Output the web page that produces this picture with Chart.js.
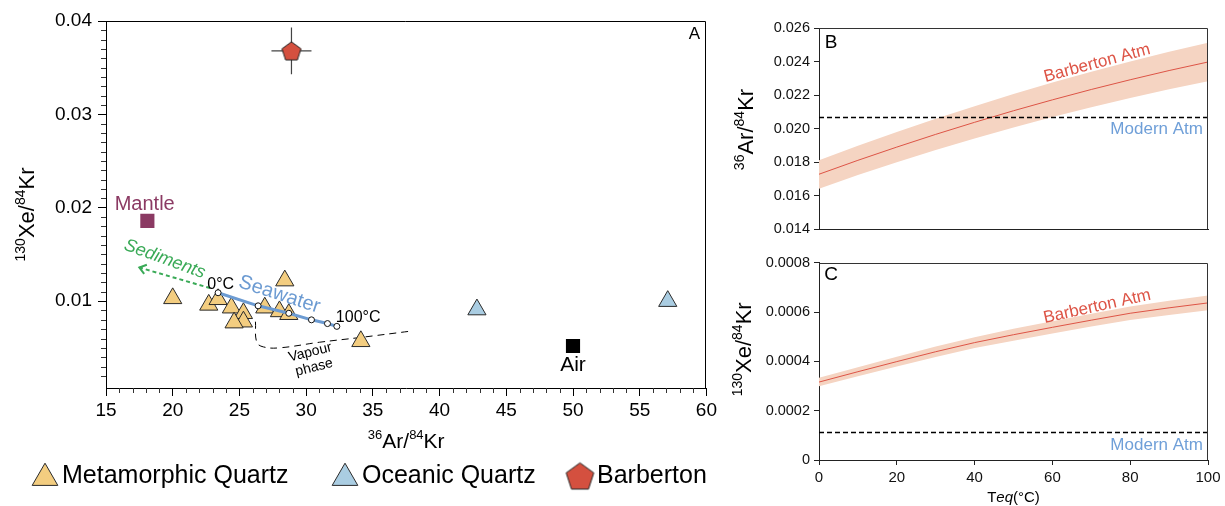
<!DOCTYPE html>
<html>
<head>
<meta charset="utf-8">
<script src="https://cdn.jsdelivr.net/npm/chart.js@4.4.1/dist/chart.umd.min.js"></script>
<style>
  html, body { margin: 0; padding: 0; background: #fff; }
  #wrap { position: relative; width: 1225px; height: 506px; overflow: hidden; }
  canvas { position: absolute; }
  #chartA { left: 0; top: 0; }
  #chartB { left: 720px; top: 0; }
  #chartC { left: 720px; top: 250px; }
</style>
</head>
<body>
<div id="wrap">
  <canvas id="chartA" width="720" height="506"></canvas>
  <canvas id="chartB" width="505" height="250"></canvas>
  <canvas id="chartC" width="505" height="256"></canvas>
</div>
<script>
// Panel A: 36Ar/84Kr vs 130Xe/84Kr
const metaAr = [20.0, 22.7, 23.4, 24.4, 25.3, 25.3, 24.6, 26.9, 28.4, 28.0, 28.7, 34.1];
const metaXe = [0.0103, 0.0096, 0.0102, 0.0093, 0.0087, 0.0078, 0.0077, 0.0093, 0.0122, 0.0089, 0.0086, 0.0057];
const oceanAr = [42.8, 57.1];
const oceanXe = [0.0091, 0.0100];
const barbAr = [28.9];
const barbXe = [0.0368];
const barbArErr = [1.5];
const barbXeErr = [0.0025];
const mantleAr = [18.1];
const mantleXe = [0.0186];
const airAr = [50.0];
const airXe = [0.0052];
const seawaterT = [0, 20, 40, 60, 80, 100];
const seawaterAr = [23.4, 26.4, 28.7, 30.4, 31.6, 32.3];
const seawaterXe = [0.0109, 0.0095, 0.0087, 0.0080, 0.0076, 0.0073];
const sedimentAr = [22.8, 17.5];
const sedimentXe = [0.0114, 0.0136];
const vapourAr = [26.2, 26.3, 26.8, 28.0, 31.0, 34.0, 37.9];
const vapourXe = [0.0078, 0.0056, 0.0051, 0.0050, 0.0056, 0.0061, 0.0068];

// Panels B and C: equilibrium temperature curves
const teq = [0, 10, 20, 30, 40, 50, 60, 70, 80, 90, 100];
const arKrMid = [0.01727, 0.01810, 0.01889, 0.01965, 0.02037, 0.02106, 0.02171, 0.02233, 0.02291, 0.02346, 0.02397];
const arKrHi = [0.01811, 0.01897, 0.01979, 0.02058, 0.02133, 0.02206, 0.02274, 0.02339, 0.02400, 0.02458, 0.02512];
const arKrLo = [0.01641, 0.01723, 0.01799, 0.01872, 0.01941, 0.02006, 0.02068, 0.02127, 0.02182, 0.02234, 0.02282];
const arKrModern = 0.02065;
const xeKrMid = [0.000316, 0.000358, 0.000399, 0.000439, 0.000476, 0.000508, 0.000538, 0.000567, 0.000595, 0.000617, 0.000637];
const xeKrHi = [0.000333, 0.000376, 0.000419, 0.000460, 0.000498, 0.000532, 0.000563, 0.000593, 0.000622, 0.000646, 0.000667];
const xeKrLo = [0.000299, 0.000340, 0.000379, 0.000418, 0.000454, 0.000484, 0.000513, 0.000541, 0.000568, 0.000588, 0.000607];
const xeKrModern = 0.000112;

const FONT = "'Liberation Sans', Arial, sans-serif";

const RED = "#dd5446";
const BAND = "#f5d4c2";
const BLUE = "#6f9fd8";

function onStep(v, step) {
  const r = v / step;
  return Math.abs(r - Math.round(r)) < 1e-6;
}

function pts(xs, ys) {
  return xs.map((x, i) => ({ x, y: ys[i] }));
}

// pentagon marker (Chart.js has no built-in pentagon point style)
function pentagon(r) {
  const c = document.createElement("canvas");
  const s = Math.ceil(r * 2 + 4);
  c.width = s; c.height = s;
  const g = c.getContext("2d");
  const cy = s / 2 + r * 0.095;
  g.beginPath();
  for (let i = 0; i < 5; i++) {
    const ang = -Math.PI / 2 + i * 2 * Math.PI / 5;
    const px = s / 2 + r * Math.cos(ang), py = cy + r * Math.sin(ang);
    if (i) g.lineTo(px, py); else g.moveTo(px, py);
  }
  g.closePath();
  g.fillStyle = "#d4503f";
  g.fill();
  g.strokeStyle = "#222";
  g.lineWidth = 1;
  g.stroke();
  return c;
}
const pentSmall = pentagon(10);
const pentBig = pentagon(14.5);

// text with superscripts, e.g. [["36", "sup"], ["Ar/"], ...]
function richText(ctx, segs, x, y, rot, size, color) {
  const supSize = Math.round(size * 0.64);
  ctx.save();
  ctx.translate(x, y);
  ctx.rotate(rot * Math.PI / 180);
  ctx.fillStyle = color || "#000";
  ctx.textBaseline = "alphabetic";
  ctx.textAlign = "left";
  const fontOf = s => (s[1] === "it" ? "italic " : "") + (s[1] === "sup" ? supSize : size) + "px " + FONT;
  let total = 0;
  const widths = segs.map(s => {
    ctx.font = fontOf(s);
    const w = ctx.measureText(s[0]).width;
    total += w;
    return w;
  });
  let cx = -total / 2;
  segs.forEach((s, i) => {
    ctx.font = fontOf(s);
    ctx.fillText(s[0], cx, size * 0.36 - (s[1] === "sup" ? size * 0.42 : 0));
    cx += widths[i];
  });
  ctx.restore();
}

// frame, minor ticks, labels, axis titles, arrow, legend
const annot = {
  id: "annot",
  afterDraw(chart, _args, o) {
    const { ctx, chartArea: a, scales } = chart;
    const sx = scales.x, sy = scales.y;
    ctx.save();

    // top and right edges of the box (left/bottom come from the axes)
    ctx.strokeStyle = o.frame || "#000";
    ctx.lineWidth = 1;
    const top = Math.round(a.top) + 0.5, right = Math.round(a.right) - 0.5;
    ctx.beginPath();
    ctx.moveTo(a.left, top);
    ctx.lineTo(right, top);
    ctx.lineTo(right, a.bottom);
    ctx.stroke();

    (o.minor || []).forEach(m => {
      const sc = scales[m.axis];
      ctx.strokeStyle = "#333";
      ctx.beginPath();
      sc.ticks.forEach(t => {
        if (onStep(t.value, m.major)) return;
        const p = Math.round(sc.getPixelForValue(t.value)) + 0.5;
        if (m.axis === "x") { ctx.moveTo(p, a.bottom); ctx.lineTo(p, a.bottom + m.len); }
        else { ctx.moveTo(a.left - m.len, p); ctx.lineTo(a.left, p); }
      });
      ctx.stroke();
    });

    (o.arrows || []).forEach(ar => {
      const d = chart.getDatasetMeta(ar.ds).data;
      const tip = d[d.length - 1], prev = d[d.length - 2];
      const ang = Math.atan2(tip.y - prev.y, tip.x - prev.x);
      ctx.strokeStyle = ar.color;
      ctx.lineWidth = 2;
      ctx.beginPath();
      ctx.moveTo(tip.x + ar.len * Math.cos(ang + 2.5), tip.y + ar.len * Math.sin(ang + 2.5));
      ctx.lineTo(tip.x, tip.y);
      ctx.lineTo(tip.x + ar.len * Math.cos(ang - 2.5), tip.y + ar.len * Math.sin(ang - 2.5));
      ctx.stroke();
    });

    (o.texts || []).forEach(t => {
      let px, py;
      if (t.area) {
        px = t.fromRight ? a.right - t.dx : a.left + t.dx;
        py = a.top + t.dy;
      } else {
        px = sx.getPixelForValue(t.x);
        py = sy.getPixelForValue(t.y);
      }
      ctx.save();
      ctx.translate(px, py);
      ctx.rotate((t.rot || 0) * Math.PI / 180);
      ctx.font = t.font;
      ctx.fillStyle = t.color || "#000";
      ctx.textAlign = t.align || "center";
      ctx.textBaseline = "middle";
      ctx.fillText(t.text, 0, 0);
      ctx.restore();
    });

    (o.titles || []).forEach(t => {
      const p = t.at(a);
      richText(ctx, t.segs, p[0], p[1], t.rot || 0, t.size, "#000");
    });

    if (o.legend) {
      const L = o.legend;
      ctx.font = L.font;
      ctx.textAlign = "left";
      ctx.textBaseline = "middle";
      L.items.forEach(it => {
        const ds = chart.data.datasets[it.ds];
        if (it.image) {
          ctx.drawImage(it.image, it.x - it.image.width / 2, L.y - it.image.height / 2);
        } else {
          ctx.fillStyle = ds.backgroundColor;
          ctx.strokeStyle = ds.borderColor;
          ctx.lineWidth = 1;
          Chart.helpers.drawPoint(ctx, { pointStyle: ds.pointStyle, radius: L.radius, rotation: 0, borderWidth: 1 }, it.x, L.y + 2);
        }
        ctx.fillStyle = "#000";
        ctx.fillText(ds.label, it.x + L.gap, L.y);
      });
    }
    ctx.restore();
  }
};

const base = {
  responsive: false,
  animation: false,
  events: [],
  plugins: { legend: { display: false }, tooltip: { enabled: false } }
};

// ---------- Panel A ----------
new Chart(document.getElementById("chartA"), {
  type: "scatter",
  data: {
    datasets: [
      { label: "Metamorphic Quartz", data: pts(metaAr, metaXe), pointStyle: "triangle", pointRadius: 10.5,
        backgroundColor: "#f3cd80", borderColor: "#2a2a2a", borderWidth: 1, order: 2 },
      { label: "Oceanic Quartz", data: pts(oceanAr, oceanXe), pointStyle: "triangle", pointRadius: 10.5,
        backgroundColor: "#aacde2", borderColor: "#2a2a2a", borderWidth: 1, order: 2 },
      { label: "Barberton", data: pts(barbAr, barbXe), pointStyle: pentSmall, pointRadius: 10,
        backgroundColor: "#d4503f", borderColor: "#222", order: 1 },
      { label: "err x", data: [{ x: barbAr[0] - barbArErr[0], y: barbXe[0] }, { x: barbAr[0] + barbArErr[0], y: barbXe[0] }],
        showLine: true, pointRadius: 0, borderColor: "#444", borderWidth: 1.2, order: 3 },
      { label: "err y", data: [{ x: barbAr[0], y: barbXe[0] - barbXeErr[0] }, { x: barbAr[0], y: barbXe[0] + barbXeErr[0] }],
        showLine: true, pointRadius: 0, borderColor: "#444", borderWidth: 1.2, order: 3 },
      { label: "Mantle", data: pts(mantleAr, mantleXe), pointStyle: "rect", pointRadius: 10,
        backgroundColor: "#8b3a63", borderColor: "#8b3a63", borderWidth: 0, order: 2 },
      { label: "Air", data: pts(airAr, airXe), pointStyle: "rect", pointRadius: 10,
        backgroundColor: "#000", borderColor: "#000", borderWidth: 0, order: 2 },
      { label: "Seawater", data: pts(seawaterAr, seawaterXe), showLine: true, borderColor: "#6c9bd2", borderWidth: 3,
        pointRadius: 3, pointBackgroundColor: "#fff", pointBorderColor: "#111", pointBorderWidth: 1, order: 0 },
      { label: "Sediments", data: pts(sedimentAr, sedimentXe), showLine: true, borderColor: "#3aaa57", borderWidth: 2,
        borderDash: [4, 3], pointRadius: 0, order: 0 },
      { label: "Vapour phase", data: pts(vapourAr, vapourXe), showLine: true, borderColor: "#000", borderWidth: 1,
        borderDash: [7, 5], tension: 0.4, pointRadius: 0, order: 4 }
    ]
  },
  options: {
    ...base,
    layout: { padding: { top: 21, right: 13, left: 0, bottom: 0 } },
    scales: {
      x: {
        type: "linear", min: 15, max: 60,
        afterBuildTicks: s => { s.ticks = s.ticks.filter(t => onStep(t.value, 1)); },
        afterFit: s => { s.height = 118; },
        ticks: { stepSize: 1, autoSkip: false, maxRotation: 0, padding: 3, color: "#000",
          font: { size: 19, family: FONT }, callback: v => onStep(v, 5) ? String(Math.round(v)) : "" },
        grid: { drawOnChartArea: false, tickLength: 8,
          tickColor: c => (c.tick && onStep(c.tick.value, 5)) ? "#000" : "rgba(0,0,0,0)" },
        border: { color: "#000" }
      },
      y: {
        type: "linear", min: 0.0007, max: 0.04,
        afterBuildTicks: s => { s.ticks = s.ticks.filter(t => onStep(t.value, 0.001)); },
        afterFit: s => { s.width = 106; },
        ticks: { stepSize: 0.001, autoSkip: false, padding: 6, color: "#000",
          font: { size: 19, family: FONT }, callback: v => onStep(v, 0.01) ? v.toFixed(2) : "" },
        grid: { drawOnChartArea: false, tickLength: 8,
          tickColor: c => (c.tick && onStep(c.tick.value, 0.01)) ? "#000" : "rgba(0,0,0,0)" },
        border: { color: "#000" }
      }
    },
    plugins: {
      ...base.plugins,
      annot: {
        minor: [{ axis: "x", major: 5, len: 5 }, { axis: "y", major: 0.01, len: 5 }],
        arrows: [{ ds: 8, color: "#3aaa57", len: 8 }],
        texts: [
          { x: 17.9, y: 0.0204, text: "Mantle", color: "#8b3a63", font: "20px " + FONT },
          { x: 50.0, y: 0.0031, text: "Air", font: "21px " + FONT },
          { x: 28.0, y: 0.0107, text: "Seawater", color: "#6c9bd2", font: "20px " + FONT, rot: 18 },
          { x: 19.4, y: 0.0145, text: "Sediments", color: "#3aaa57", font: "italic 18px " + FONT, rot: 20 },
          { x: 23.6, y: 0.0118, text: "0°C", font: "16px " + FONT },
          { x: 33.9, y: 0.0082, text: "100°C", font: "16px " + FONT },
          { x: 30.3, y: 0.0045, text: "Vapour", font: "14px " + FONT, rot: -14 },
          { x: 30.6, y: 0.0029, text: "phase", font: "14px " + FONT, rot: -14 },
          { area: true, fromRight: true, dx: 12, dy: 13, text: "A", font: "17px " + FONT }
        ],
        titles: [
          { segs: [["36", "sup"], ["Ar/"], ["84", "sup"], ["Kr"]], size: 21,
            at: a => [(a.left + a.right) / 2, a.bottom + 52] },
          { segs: [["130", "sup"], ["Xe/"], ["84", "sup"], ["Kr"]], size: 22, rot: -90,
            at: a => [26, (a.top + a.bottom) / 2 + 10] }
        ],
        legend: {
          y: 476, radius: 14.8, gap: 17, font: "25px " + FONT,
          items: [{ ds: 0, x: 45 }, { ds: 1, x: 345 }, { ds: 2, x: 580, image: pentBig }]
        }
      }
    }
  },
  plugins: [annot]
});

// ---------- Panels B and C ----------
function curveChart(id, cfg) {
  return new Chart(document.getElementById(id), {
    type: "scatter",
    data: {
      datasets: [
        { label: "upper", data: pts(teq, cfg.hi), showLine: true, pointRadius: 0, borderWidth: 0,
          borderColor: BAND, backgroundColor: BAND, fill: "+1", order: 2 },
        { label: "lower", data: pts(teq, cfg.lo), showLine: true, pointRadius: 0, borderWidth: 0,
          borderColor: BAND, fill: false, order: 2 },
        { label: "Barberton Atm", data: pts(teq, cfg.mid), showLine: true, pointRadius: 0, borderWidth: 1,
          borderColor: RED, order: 1 },
        { label: "Modern Atm", data: [{ x: teq[0], y: cfg.modern }, { x: teq[teq.length - 1], y: cfg.modern }],
          showLine: true, pointRadius: 0, borderWidth: 1.5, borderColor: "#000", borderDash: [5, 3], order: 0 }
      ]
    },
    options: {
      ...base,
      layout: { padding: { top: cfg.top, right: 17, left: 0, bottom: 0 } },
      scales: {
        x: {
          type: "linear", min: 0, max: 100,
          afterFit: s => { s.height = cfg.xHeight; },
          ticks: { display: cfg.xTicks, stepSize: 20, maxRotation: 0, padding: 4, color: "#111",
            font: { size: 15, family: FONT } },
          grid: { display: cfg.xTicks, drawOnChartArea: false, tickLength: 5, tickColor: "#222" },
          border: { color: "#222" }
        },
        y: {
          type: "linear", min: cfg.min, max: cfg.max,
          afterFit: s => { s.width = 99; },
          ticks: { stepSize: cfg.step, padding: 4, color: "#111", font: { size: 14.5, family: FONT },
            callback: v => Math.abs(v) < 1e-12 ? "0" : v.toFixed(cfg.digits) },
          grid: { drawOnChartArea: false, tickLength: 5, tickColor: "#222" },
          border: { color: "#222" }
        }
      },
      plugins: {
        ...base.plugins,
        annot: {
          frame: "#333",
          texts: [
            { area: true, dx: 12, dy: cfg.letterDy, text: cfg.letter, font: "19px " + FONT },
            { x: 71.5, y: cfg.labelY, text: "Barberton Atm", color: RED, font: "17px " + FONT, rot: cfg.labelRot },
            { x: 98.7, y: cfg.modernY, text: "Modern Atm", color: BLUE, font: "17px " + FONT, align: "right" }
          ],
          titles: cfg.titles
        }
      }
    },
    plugins: [annot]
  });
}

curveChart("chartB", {
  hi: arKrHi, lo: arKrLo, mid: arKrMid, modern: arKrModern,
  min: 0.014, max: 0.026, step: 0.002, digits: 3,
  top: 28, xHeight: 21, xTicks: false,
  letter: "B", letterDy: 15, labelY: 0.0239, labelRot: -15, modernY: 0.01998,
  titles: [{ segs: [["36", "sup"], ["Ar/"], ["84", "sup"], ["Kr"]], size: 22, rot: -90,
    at: a => [25, (a.top + a.bottom) / 2 + 1] }]
});

curveChart("chartC", {
  hi: xeKrHi, lo: xeKrLo, mid: xeKrMid, modern: xeKrModern,
  min: 0, max: 0.0008, step: 0.0002, digits: 4,
  top: 9, xHeight: 46, xTicks: true,
  letter: "C", letterDy: 12, labelY: 0.000622, labelRot: -12.5, modernY: 0.00006,
  titles: [
    { segs: [["130", "sup"], ["Xe/"], ["84", "sup"], ["Kr"]], size: 22, rot: -90,
      at: a => [23, (a.top + a.bottom) / 2 - 12] },
    { segs: [["T"], ["eq", "it"], ["(°C)"]], size: 15,
      at: a => [(a.left + a.right) / 2, a.bottom + 37] }
  ]
});
</script>
</body>
</html>
